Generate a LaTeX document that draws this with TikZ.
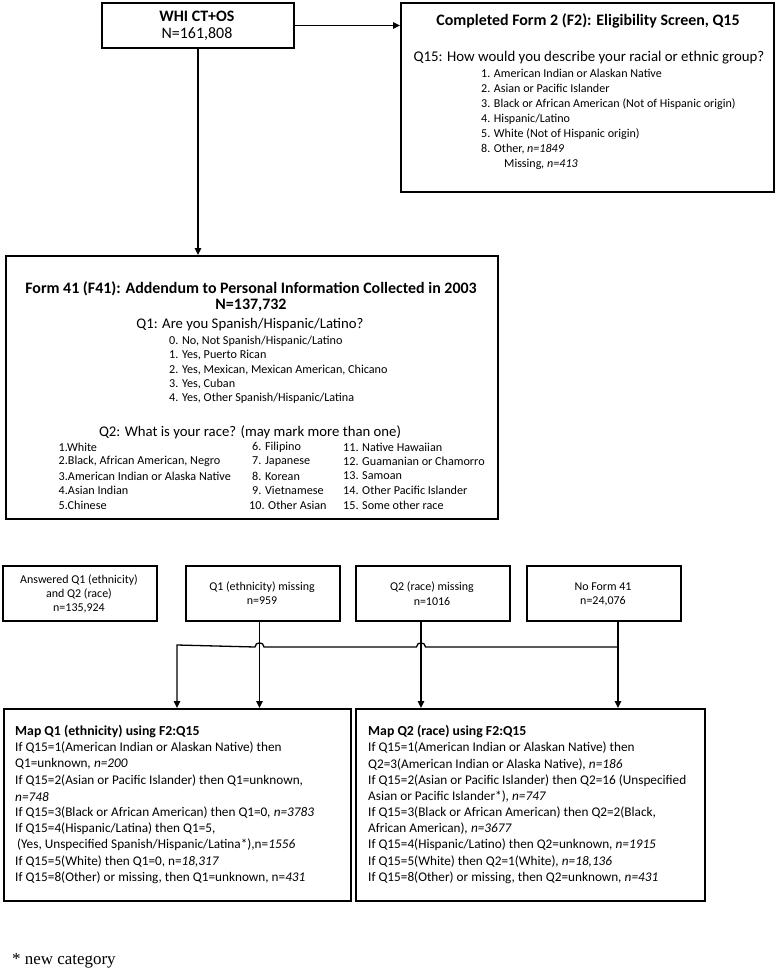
\documentclass[tikz,border=0pt]{standalone}
\usepackage{fontspec}
\setmainfont{Carlito}
\newfontfamily\footfont{Liberation Serif}
\usetikzlibrary{arrows.meta,calc}
\begin{document}
\begin{tikzpicture}[x=1bp,y=-1bp,
 box/.style={draw=black,line width=2bp,rectangle,inner sep=0pt,anchor=north west},
 conn/.style={draw=black,line width=1.3bp,-{Triangle[length=7bp,width=6.5bp]}},
 tl/.style={inner sep=0pt,anchor=west},
 tc/.style={inner sep=0pt,anchor=center},
 hd/.style={tc,font=\bfseries\fontsize{16}{18}\selectfont},
 wh/.style={tc,font=\fontsize{16}{18}\selectfont},
 qq/.style={tc,font=\fontsize{14.9}{17}\selectfont},
 f2i/.style={tl,font=\fontsize{12.1}{14}\selectfont},
 q1h/.style={tc,font=\fontsize{14.8}{17}\selectfont},
 q1i/.style={tl,font=\fontsize{12.2}{14}\selectfont},
 sm/.style={tc,font=\fontsize{12}{14}\selectfont},
 mp/.style={tl,font=\fontsize{13.3}{15}\selectfont},
 mph/.style={tl,font=\bfseries\fontsize{13.8}{16}\selectfont},
]
\fill[white] (0,0) rectangle (777,970);
\useasboundingbox (0,0) rectangle (777,970);

% ---------- WHI ----------
\node[box,minimum width=192bp,minimum height=45bp] (whi) at (101,2) {};
\node[wh] (whit) at (197,16) {\bfseries WHI CT+OS};
\node[wh] (whin) at (197,34) {N=161,808};

% ---------- F2 ----------
\node[box,minimum width=373bp,minimum height=189bp] (f2) at (400,2) {};
\node[hd] (f2t) at (588,21) {Completed Form 2 (F2): Eligibility Screen, Q15};
\node[qq] (f2q) at (589,58) {Q15: How would you describe your racial or ethnic group?};
\node[f2i] (f2a) at (481,73.5) {1. American Indian or Alaskan Native};
\node[f2i] (f2b) at (481,88.7) {2. Asian or Pacific Islander};
\node[f2i] (f2c) at (481,103.9) {3. Black or African American (Not of Hispanic origin)};
\node[f2i] (f2d) at (481,119.1) {4. Hispanic/Latino};
\node[f2i] (f2e) at (481,134.3) {5. White (Not of Hispanic origin)};
\node[f2i] (f2f) at (481,149.5) {8. Other, \textit{n=1849}};
\node[f2i] (f2g) at (504,164.7) {Missing\textit{, n=413}};

\draw[conn] (whi.east) -- (whi.east -| f2.west);

% ---------- Form 41 ----------
\node[box,minimum width=492bp,minimum height=263bp] (f41) at (5,255) {};
\draw[conn] (whi.south) -- (whi.south |- f41.north);
\node[hd] (f41t) at (251,289) {Form 41 (F41): Addendum to Personal Information Collected in 2003};
\node[hd] (f41n) at (251,305.5) {N=137,732};
\node[q1h] (q1h) at (250,325) {Q1: Are you Spanish/Hispanic/Latino?};
\node[q1i] (q1a) at (169,341) {0. No, Not Spanish/Hispanic/Latino};
\node[q1i] (q1b) at (169,355.3) {1. Yes, Puerto Rican};
\node[q1i] (q1c) at (169,369.6) {2. Yes, Mexican, Mexican American, Chicano};
\node[q1i] (q1d) at (169,383.9) {3. Yes, Cuban};
\node[q1i] (q1e) at (169,398.2) {4. Yes, Other Spanish/Hispanic/Latina};
\node[q1h] (q2h) at (250,432) {Q2: What is your race? (may mark more than one)};
\node[q1i] (r1) at (58.5,447) {1.White};
\node[q1i] (r2) at (58.5,461.5) {2.Black, African American, Negro};
\node[q1i] (r3) at (58.5,476) {3.American Indian or Alaska Native};
\node[q1i] (r4) at (58.5,490.5) {4.Asian Indian};
\node[q1i] (r5) at (58.5,505) {5.Chinese};
\node[q1i] (r6) at (252,447) {6. Filipino};
\node[q1i] (r7) at (252,461.5) {7. Japanese};
\node[q1i] (r8) at (252,476) {8. Korean};
\node[q1i] (r9) at (252,490.5) {9. Vietnamese};
\node[q1i] (r10) at (249,505) {10. Other Asian};
\node[q1i] (r11) at (343,447) {11. Native Hawaiian};
\node[q1i] (r12) at (343,461.5) {12. Guamanian or Chamorro};
\node[q1i] (r13) at (343,476) {13. Samoan};
\node[q1i] (r14) at (343,490.5) {14. Other Pacific Islander};
\node[q1i] (r15) at (343,505) {15. Some other race};

% ---------- four boxes ----------
\node[box,minimum width=154bp,minimum height=55bp] (ans) at (2,565) {};
\node[sm] (ansa) at (79,580) {Answered Q1 (ethnicity)};
\node[sm] (ansb) at (79,594) {and Q2 (race)};
\node[sm] (ansc) at (79,608) {n=135,924};
\node[box,minimum width=154bp,minimum height=55bp] (q1m) at (185,565) {};
\node[sm] (q1ma) at (262,587) {Q1 (ethnicity) missing};
\node[sm] (q1mb) at (262,601) {n=959};
\node[box,minimum width=154bp,minimum height=55bp] (q2m) at (355,565) {};
\node[sm] (q2ma) at (432,587) {Q2 (race) missing};
\node[sm] (q2mb) at (432,601) {n=1016};
\node[box,minimum width=154bp,minimum height=55bp] (nof) at (526,565) {};
\node[sm] (nofa) at (603,587) {No Form 41};
\node[sm] (nofb) at (603,601) {n=24,076};

% ---------- bottom boxes ----------
\node[box,minimum width=347bp,minimum height=192bp] (mq1) at (3,708) {};
\node[box,minimum width=349bp,minimum height=192bp] (mq2) at (355,708) {};

% ---------- connectors ----------
\coordinate (s2) at ([xshift=-3.5bp]q1m.south);
\coordinate (s3) at ([xshift=-12bp]q2m.south);
\coordinate (s4) at ([xshift=14bp]nof.south);
\coordinate (sl) at (177,645);
\path (s4) ++(0,25) coordinate (h4);
\path (s3 |- h4) coordinate (x3);
\path (s2 |- h4) coordinate (x2);
\draw[conn] (s2) -- (s2 |- mq1.north);
\draw[conn] (s3) -- (s3 |- mq2.north);
\draw[conn] (s4) -- (s4 |- mq2.north);
\draw[conn] (h4) -- ([xshift=4.5bp]x3) .. controls +(0,-5.5) and +(0,-5.5) .. ([xshift=-4.5bp]x3)
  -- ([xshift=4.5bp]x2) .. controls +(0,-5.5) and +(0,-5.5) .. ([xshift=-4.5bp]x2)
  -- (sl) -- (sl |- mq1.north);

% ---------- map texts ----------
\node[mph] (m1h) at (15,732) {Map Q1 (ethnicity) using F2:Q15};
\node[mp] (m1a) at (15,748) {If Q15=1(American Indian or Alaskan Native) then};
\node[mp] (m1b) at (15,764.2) {Q1=unknown\textit{, n=200}};
\node[mp] (m1c) at (15,780.4) {If Q15=2(Asian or Pacific Islander) then Q1=unknown,};
\node[mp] (m1d) at (15,796.6) {\textit{n=748}};
\node[mp] (m1e) at (15,812.8) {If Q15=3(Black or African American) then Q1=0\textit{, n=3783}};
\node[mp] (m1f) at (15,829) {If Q15=4(Hispanic/Latina) then Q1=5,};
\node[mp] (m1g) at (17,845.2) {(Yes, Unspecified Spanish/Hispanic/Latina*),n=\textit{1556}};
\node[mp] (m1i) at (15,861.4) {If Q15=5(White) then Q1=0, n=\textit{18,317}};
\node[mp] (m1j) at (15,877.6) {If Q15=8(Other) or missing, then Q1=unknown, n=\textit{431}};

\node[mph] (m2h) at (368,732) {Map Q2 (race) using F2:Q15};
\node[mp] (m2a) at (368,748) {If Q15=1(American Indian or Alaskan Native) then};
\node[mp] (m2b) at (368,764.2) {Q2=3(American Indian or Alaska Native)\textit{, n=186}};
\node[mp] (m2c) at (368,780.4) {If Q15=2(Asian or Pacific Islander) then Q2=16 (Unspecified};
\node[mp] (m2d) at (368,796.6) {Asian or Pacific Islander*)\textit{, n=747}};
\node[mp] (m2e) at (368,812.8) {If Q15=3(Black or African American) then Q2=2(Black,};
\node[mp] (m2f) at (368,829) {African American)\textit{, n=3677}};
\node[mp] (m2g) at (368,845.2) {If Q15=4(Hispanic/Latino) then Q2=unknown\textit{, n=1915}};
\node[mp] (m2i) at (368,861.4) {If Q15=5(White) then Q2=1(White)\textit{, n=18,136}};
\node[mp] (m2j) at (368,877.6) {If Q15=8(Other) or missing, then Q2=unknown\textit{, n=431}};

% ---------- footnote ----------
\node[tl,font=\footfont\fontsize{17}{19}\selectfont] (fn) at (12,961) {* new category};
\end{tikzpicture}
\end{document}
